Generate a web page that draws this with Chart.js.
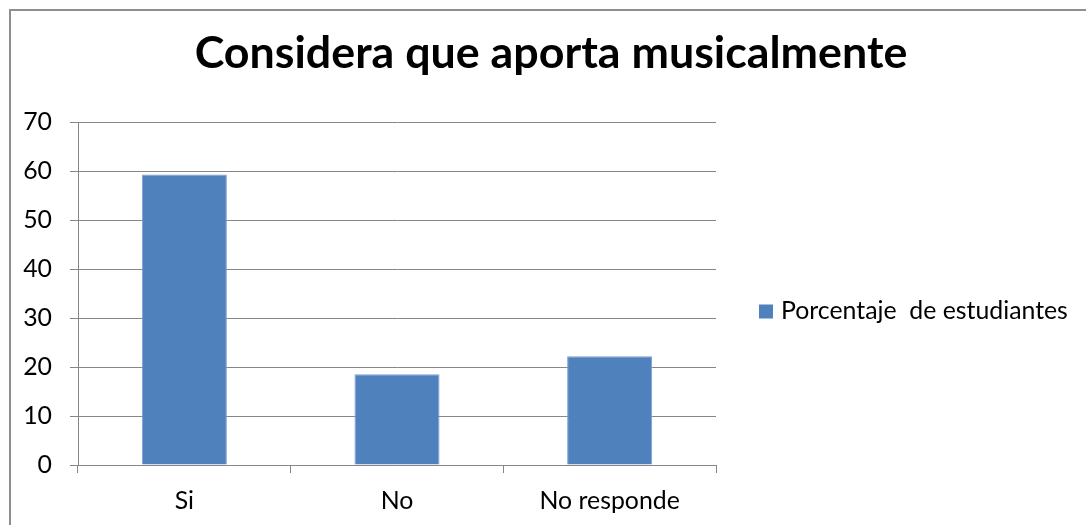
<!DOCTYPE html>
<html>
<head>
<meta charset="utf-8">
<title>Considera que aporta musicalmente</title>
<script src="https://cdn.jsdelivr.net/npm/chart.js@4.4.1/dist/chart.umd.min.js"></script>
<style>
  html, body { margin: 0; padding: 0; background: #ffffff; }
  #wrap { width: 1086px; height: 525px; position: relative; }
</style>
</head>
<body>
<div id="wrap"><canvas id="c" width="1086" height="525"></canvas></div>
<script>
// Chart content
const chartTitle = 'Considera que aporta musicalmente';
const categories = ['Si', 'No', 'No responde'];
const seriesLabel = 'Porcentaje  de estudiantes';
const seriesValues = [59.3, 18.5, 22.2];
const yTicks = [0, 10, 20, 30, 40, 50, 60, 70];

// Styling
const FONT = 'Lato, Carlito, "Open Sans", sans-serif';
const BAR_COLOR = '#4f81bd';
const BAR_EDGE = '#7a9fcf';
const LINE_COLOR = '#868686';
const TEXT_COLOR = '#000000';

// Size a font so a string spans a given width
function fitSize(text, weight, target) {
  const m = document.createElement('canvas').getContext('2d');
  m.font = weight + ' 100px ' + FONT;
  return 100 * target / m.measureText(text).width;
}
const titleSize = fitSize(chartTitle, 'bold', 713);
const legendSize = fitSize(seriesLabel, 'normal', 287);
const tickSize = legendSize;

// Frame lines, title and legend
const decor = {
  id: 'decor',
  beforeDraw(chart) {
    const ctx = chart.ctx;
    ctx.save();
    ctx.fillStyle = '#ffffff';
    ctx.fillRect(0, 0, chart.width, chart.height);
    ctx.fillStyle = '#8f8f8f';
    ctx.fillRect(9, 9, chart.width - 9, 2);
    ctx.fillRect(9, 9, 2, chart.height - 9);
    ctx.restore();
  },
  afterDraw(chart) {
    const ctx = chart.ctx;
    const area = chart.chartArea;
    ctx.save();
    // title
    ctx.fillStyle = TEXT_COLOR;
    ctx.font = 'bold ' + titleSize + 'px ' + FONT;
    ctx.textAlign = 'center';
    ctx.textBaseline = 'alphabetic';
    ctx.fillText(chartTitle, 551, area.top - 54);
    // legend
    const ds = chart.data.datasets[0];
    const lx = area.right + 43;
    const ly = (area.top + area.bottom) / 2 + 18;
    ctx.fillStyle = ds.backgroundColor;
    ctx.fillRect(lx, ly - 7, 14, 14);
    ctx.fillStyle = TEXT_COLOR;
    ctx.font = legendSize + 'px ' + FONT;
    ctx.textAlign = 'left';
    ctx.fillText(ds.label, lx + 22, ly + 7);
    ctx.restore();
  }
};

new Chart(document.getElementById('c'), {
  type: 'bar',
  data: {
    labels: categories,
    datasets: [{
      label: seriesLabel,
      data: seriesValues,
      backgroundColor: BAR_COLOR,
      borderColor: BAR_EDGE,
      borderWidth: 1,
      barPercentage: 0.4,
      categoryPercentage: 1.0
    }]
  },
  options: {
    responsive: false,
    animation: false,
    devicePixelRatio: 1,
    layout: { padding: { top: 122, right: 370, bottom: 0, left: 0 } },
    plugins: {
      legend: { display: false },
      title: { display: false },
      tooltip: { enabled: false }
    },
    scales: {
      x: {
        afterFit(s) { s.height = 60; },
        grid: {
          offset: true,
          drawOnChartArea: false,
          drawTicks: true,
          tickLength: 8,
          color: LINE_COLOR
        },
        border: { display: true, color: LINE_COLOR },
        ticks: {
          color: TEXT_COLOR,
          padding: 13,
          font: { family: FONT, size: tickSize }
        }
      },
      y: {
        min: yTicks[0],
        max: yTicks[yTicks.length - 1],
        afterFit(s) { s.width = 78; },
        afterBuildTicks(s) { s.ticks = yTicks.map(v => ({ value: v })); },
        grid: {
          color: LINE_COLOR,
          tickLength: 8
        },
        border: { display: true, color: LINE_COLOR },
        ticks: {
          color: TEXT_COLOR,
          padding: 18,
          font: { family: FONT, size: tickSize }
        }
      }
    }
  },
  plugins: [decor]
});
</script>
</body>
</html>
